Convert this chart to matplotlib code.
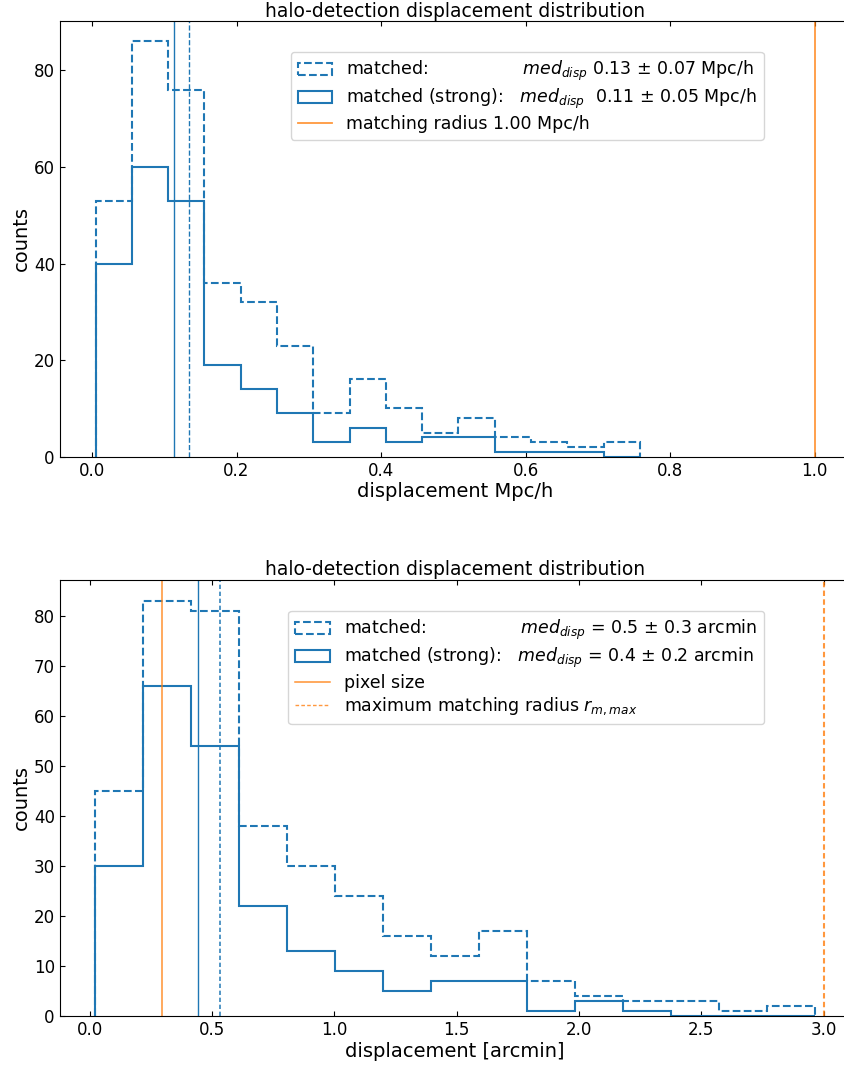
import numpy as np
import matplotlib
matplotlib.use("Agg")
import matplotlib.pyplot as plt

plt.rcParams["font.family"] = ["DejaVu Sans"]
plt.rcParams["font.size"] = 12
plt.rcParams["xtick.direction"] = "in"
plt.rcParams["ytick.direction"] = "in"
plt.rcParams["xtick.top"] = True
plt.rcParams["ytick.right"] = True
plt.rcParams["xtick.labelsize"] = 12
plt.rcParams["ytick.labelsize"] = 12
plt.rcParams["axes.labelsize"] = 14
plt.rcParams["axes.titlesize"] = 13.5
plt.rcParams["legend.fontsize"] = 12.5

# ---- physical displacement (Mpc/h) ----
mpc_edges = [0.005, 0.0552, 0.1054, 0.1556, 0.2058, 0.256, 0.3062, 0.3564,
             0.4066, 0.4568, 0.507, 0.5572, 0.6074, 0.6576, 0.7078, 0.758]
mpc_matched = [53, 86, 76, 36, 32, 23, 9, 16, 10, 5, 8, 4, 3, 2, 3]
mpc_strong = [40, 60, 53, 19, 14, 9, 3, 6, 3, 4, 4, 1, 1, 1, 0]
mpc_med_matched = 0.134
mpc_med_strong = 0.113
mpc_matching_radius = 1.00

# ---- angular displacement (arcmin) ----
arc_edges = [0.022, 0.2181, 0.4141, 0.6102, 0.8063, 1.0023, 1.1984, 1.3945,
             1.5905, 1.7866, 1.9827, 2.1787, 2.3748, 2.5709, 2.7669, 2.963]
arc_matched = [45, 83, 81, 38, 30, 24, 16, 12, 17, 7, 4, 3, 3, 1, 2]
arc_strong = [30, 66, 54, 22, 13, 9, 5, 7, 7, 1, 3, 1, 0, 0, 0]
arc_med_matched = 0.531
arc_med_strong = 0.443
arc_pixel_size = 0.296
arc_r_max = 3.0

C0 = "#1f77b4"
C1 = "#ff7f0e"
fine_dash = (0, (2.6, 1.6))

W, H = 844, 1065
fig = plt.figure(figsize=(W / 100, H / 100), dpi=100)

ax_w = 791 / W
ax_h = 436 / H
ax1 = fig.add_axes([59.7 / W, (H - 456.7) / H, ax_w, ax_h])
ax2 = fig.add_axes([59.7 / W, (H - 1016) / H, ax_w, ax_h])

leg_kw = dict(loc="upper left", bbox_transform=fig.transFigure,
              borderaxespad=0, labelspacing=0.22)

# top panel
e = np.array(mpc_edges)
centers = 0.5 * (e[:-1] + e[1:])
ax1.hist(centers, bins=e, weights=mpc_matched, histtype="step", color=C0,
         ls="--", lw=1.5,
         label="matched:                 $med_{disp}$ 0.13 $\\pm$ 0.07 Mpc/h")
ax1.hist(centers, bins=e, weights=mpc_strong, histtype="step", color=C0,
         lw=1.5,
         label="matched (strong):   $med_{disp}$  0.11 $\\pm$ 0.05 Mpc/h")
ax1.axvline(mpc_med_matched, color=C0, ls="--", lw=1)
ax1.axvline(mpc_med_strong, color=C0, lw=1)
ax1.axvline(mpc_matching_radius, color=C1, lw=1.3, alpha=0.8,
            label="matching radius %.2f Mpc/h" % mpc_matching_radius)
ax1.set_xlim(-0.0447, 1.0497)
ax1.set_ylim(0, 90.3)
ax1.set_yticks([0, 20, 40, 60, 80])
ax1.set_xticks([0.0, 0.2, 0.4, 0.6, 0.8, 1.0])
ax1.set_title("halo-detection displacement distribution", pad=3)
ax1.set_xlabel("displacement Mpc/h", labelpad=2)
ax1.set_ylabel("counts", labelpad=2)
ax1.legend(bbox_to_anchor=(290.7 / W, 1 - 51.7 / H), **leg_kw)

# bottom panel
e = np.array(arc_edges)
centers = 0.5 * (e[:-1] + e[1:])
ax2.hist(centers, bins=e, weights=arc_matched, histtype="step", color=C0,
         ls="--", lw=1.5,
         label="matched:                 $med_{disp}$ = 0.5 $\\pm$ 0.3 arcmin")
ax2.hist(centers, bins=e, weights=arc_strong, histtype="step", color=C0,
         lw=1.5,
         label="matched (strong):   $med_{disp}$ = 0.4 $\\pm$ 0.2 arcmin")
ax2.axvline(arc_med_matched, color=C0, ls=fine_dash, lw=1.2, alpha=0.9)
ax2.axvline(arc_med_strong, color=C0, lw=1)
ax2.axvline(arc_pixel_size, color=C1, lw=1.1, alpha=0.85, label="pixel size")
ax2.axvline(arc_r_max, color=C1, ls=fine_dash, lw=1.5, alpha=0.8,
            label="maximum matching radius $r_{m,max}$")
ax2.set_xlim(-0.1235, 3.111)
ax2.set_ylim(0, 87.15)
ax2.set_yticks(np.arange(0, 81, 10))
ax2.set_xticks([0.0, 0.5, 1.0, 1.5, 2.0, 2.5, 3.0])
ax2.set_title("halo-detection displacement distribution", pad=3.5)
ax2.set_xlabel("displacement [arcmin]", labelpad=2)
ax2.set_ylabel("counts", labelpad=2)
leg2 = ax2.legend(bbox_to_anchor=(288.3 / W, 1 - 611 / H), **leg_kw)
leg2.get_lines()[-1].set_linewidth(1.0)

fig.savefig("out.png", dpi=100)
